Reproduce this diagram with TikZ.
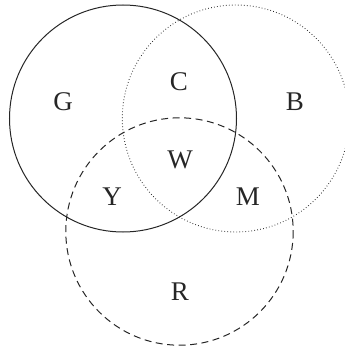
\documentclass[tikz,border=0pt]{standalone}
\usepackage{fontspec}
\setmainfont{Liberation Serif}
\begin{document}
\begin{tikzpicture}[x=1pt,y=-1pt,
  lab/.style={font=\fontsize{27}{27}\selectfont, inner sep=0pt, text=black!85},
  solidc/.style={draw=black!85, line width=1pt},
  dottedc/.style={draw=black!85, line width=0.9pt, dash pattern=on 0.7pt off 2.3pt},
  dashedc/.style={draw=black!85, line width=1pt, dash pattern=on 7pt off 4.5pt}]
\useasboundingbox (0,0) rectangle (345,348);
\clip (0,0) rectangle (345,348);
\draw[solidc] (123,118.5) circle (113.5);
\draw[dottedc] (235.8,118.5) circle (113.5);
\draw[dashedc] (179.5,231.5) circle (113.7);
\node[lab] (G) at (63,102) {G};
\node[lab] (C) at (179,82) {C};
\node[lab] (B) at (295,102) {B};
\node[lab] (W) at (180,160) {W};
\node[lab] (Y) at (112,197) {Y};
\node[lab] (M) at (248,197) {M};
\node[lab] (R) at (180,292) {R};
\end{tikzpicture}
\end{document}
